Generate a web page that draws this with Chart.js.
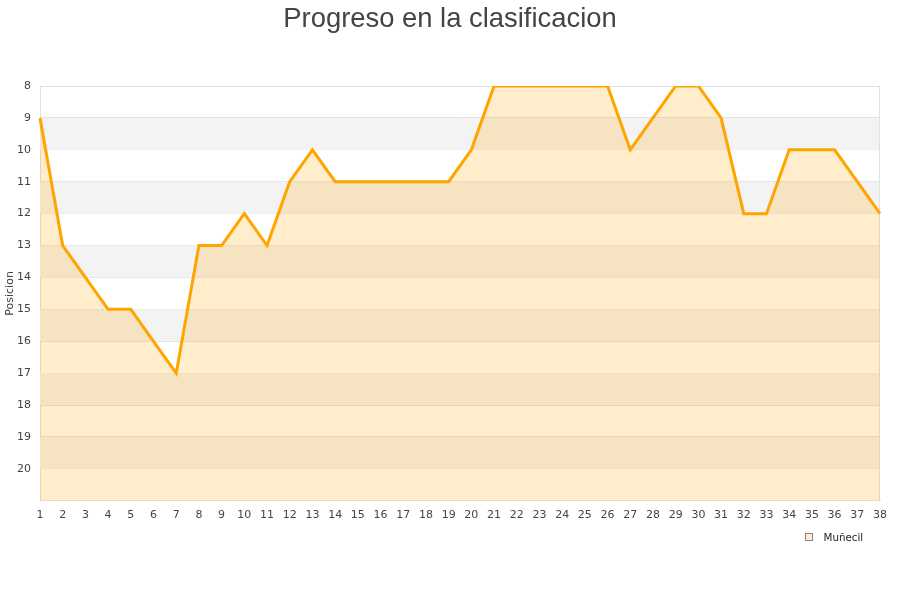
<!DOCTYPE html>
<html><head><meta charset="utf-8">
<script src="https://cdn.jsdelivr.net/npm/chart.js@4"></script>
<style>html,body{margin:0;padding:0;background:#fff}#w{width:900px;height:600px}</style>
</head><body><div id="w"><canvas id="c"></canvas></div>
<script>
const jornadas = ["1","2","3","4","5","6","7","8","9","10","11","12","13","14","15","16","17","18","19","20","21","22","23","24","25","26","27","28","29","30","31","32","33","34","35","36","37","38"];
const posiciones = [9,13,14,15,15,16,17,13,13,12,13,11,10,11,11,11,11,11,11,10,8,8,8,8,8,8,10,9,8,8,9,12,12,10,10,10,11,12];
const equipo = "Muñecil";
const titulo = "Progreso en la clasificacion";

const deco = {
  id: 'deco',
  beforeDatasetsDraw(chart) {
    const {ctx, chartArea: a, scales: {y}} = chart;
    ctx.save();
    ctx.fillStyle = '#f3f3f3';
    for (let v = 9; v < 21; v += 2) {
      const t = y.getPixelForValue(v), b = y.getPixelForValue(v + 1);
      ctx.fillRect(a.left, t, a.right - a.left, b - t);
    }
    ctx.strokeStyle = '#e0e0e0';
    ctx.lineWidth = 1;
    ctx.beginPath();
    ctx.moveTo(Math.round(a.right) - 0.5, a.top);
    ctx.lineTo(Math.round(a.right) - 0.5, a.bottom);
    ctx.stroke();
    ctx.restore();
  },
  afterDraw(chart) {
    const ctx = chart.ctx;
    ctx.save();
    ctx.fillStyle = '#444';
    ctx.font = '27.4px "Liberation Sans"';
    ctx.textAlign = 'center';
    ctx.textBaseline = 'alphabetic';
    ctx.fillText(titulo, 450, 27);
    // legend
    ctx.fillStyle = 'rgba(255,165,0,0.2)';
    ctx.fillRect(806, 534, 6, 6);
    ctx.strokeStyle = '#888';
    ctx.lineWidth = 1;
    ctx.strokeRect(805.5, 533.5, 7, 7);
    ctx.fillStyle = '#222';
    ctx.font = '10.3px "DejaVu Sans"';
    ctx.textAlign = 'left';
    ctx.fillText(chart.data.datasets[0].label, 823.5, 540.5);
    ctx.restore();
  }
};

new Chart(document.getElementById('c'), {
  type: 'line',
  data: { labels: jornadas, datasets: [{
    label: equipo, data: posiciones,
    borderColor: '#FFA500', backgroundColor: 'rgba(255,165,0,0.2)',
    borderWidth: 3, pointRadius: 0, fill: { value: 21 }, tension: 0
  }]},
  options: {
    responsive: true, maintainAspectRatio: false, animation: false,
    layout: { padding: { left: 4, right: 20, top: 86, bottom: 70 } },
    plugins: {
      title: { display: false },
      legend: { display: false },
      tooltip: { enabled: false }
    },
    scales: {
      x: { offset: false, grid: { display: false, drawTicks: false }, border: { color: '#e0e0e0' },
        ticks: { color: '#444', font: { family: 'DejaVu Sans', size: 11 }, maxRotation: 0, autoSkip: false, padding: 8 } },
      y: { reverse: true, min: 8, max: 21, grid: { color: '#e0e0e0', drawTicks: false }, border: { color: '#e0e0e0' },
        afterFit(scale) { scale.width = 36; },
        ticks: { stepSize: 1, color: '#444', font: { family: 'DejaVu Sans', size: 11 }, padding: 9,
          callback: v => v === 21 ? '' : v },
        title: { display: true, text: 'Posicion', color: '#444', font: { family: 'DejaVu Sans', size: 11 }, padding: 0 } }
    }
  },
  plugins: [deco]
});
</script></body></html>
